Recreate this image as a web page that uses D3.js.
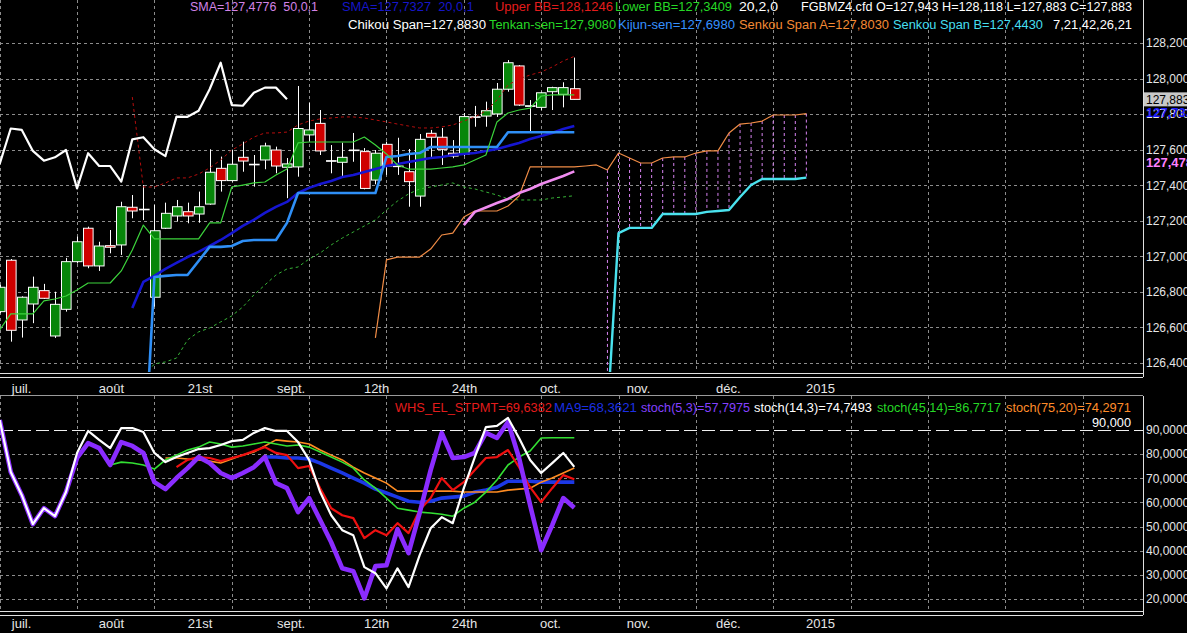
<!DOCTYPE html>
<html>
<head>
<meta charset="utf-8">
<script src="https://cdn.jsdelivr.net/npm/d3@7"></script>
<style>
  body { margin: 0; background: #000; }
  svg { display: block; }
</style>
</head>
<body>
<div id="chart-area"></div>
<script>
// daily candles, index 0 = first bar on screen
const opens = [126.689, 126.978, 126.642, 126.732, 126.807, 126.552, 126.702, 126.970, 127.158, 126.946,
  127.060, 127.064, 127.276, 127.265, 126.770, 127.158, 127.227, 127.251, 127.238, 127.294,
  127.495, 127.426, 127.557, 127.518, 127.542, 127.598, 127.501, 127.503, 127.683, 127.748,
  127.538, 127.529, 127.598, 127.589, 127.429, 127.630, 127.508, 127.476, 127.339, 127.692,
  127.670, 127.580, 127.574, 127.785, 127.789, 127.801, 127.940, 128.071, 127.847, 127.838,
  127.926, 127.911, 127.943];
const highs = [126.840, 126.985, 126.775, 126.886, 126.845, 126.801, 126.991, 127.111, 127.167, 127.082,
  127.148, 127.307, 127.345, 127.401, 127.289, 127.302, 127.317, 127.302, 127.364, 127.602,
  127.561, 127.600, 127.645, 127.570, 127.639, 127.617, 127.553, 127.958, 127.863, 127.823,
  127.626, 127.639, 127.694, 127.609, 127.598, 127.645, 127.667, 127.604, 127.688, 127.711,
  127.722, 127.654, 127.806, 127.846, 127.870, 127.975, 128.104, 128.076, 127.879, 127.926,
  127.954, 127.979, 128.118];
const lows = [126.680, 126.520, 126.543, 126.624, 126.760, 126.541, 126.689, 126.960, 126.933, 126.918,
  127.017, 127.008, 127.214, 127.204, 126.717, 127.154, 127.195, 127.186, 127.189, 127.290,
  127.364, 127.420, 127.476, 127.392, 127.490, 127.467, 127.327, 127.448, 127.645, 127.570,
  127.467, 127.448, 127.532, 127.377, 127.405, 127.458, 127.458, 127.279, 127.279, 127.559,
  127.514, 127.552, 127.564, 127.729, 127.729, 127.784, 127.926, 127.846, 127.696, 127.823,
  127.823, 127.838, 127.883];
const closes = [126.826, 126.584, 126.770, 126.826, 126.764, 126.730, 126.970, 127.082, 126.946, 127.058,
  127.051, 127.279, 127.255, 127.265, 127.144, 127.242, 127.279, 127.227, 127.279, 127.473,
  127.426, 127.518, 127.536, 127.518, 127.621, 127.508, 127.520, 127.719, 127.711, 127.593,
  127.538, 127.557, 127.598, 127.382, 127.580, 127.508, 127.508, 127.420, 127.658, 127.670,
  127.602, 127.564, 127.786, 127.785, 127.819, 127.940, 128.089, 127.851, 127.847, 127.920,
  127.949, 127.949, 127.883];

// ichimoku (7,21,42,26,21)
const tenkanStart = 0;
const tenkan = [126.586, 126.676, 126.676, 126.676, 126.749, 126.760, 126.777, 126.811, 126.850, 126.850,
  126.850, 126.918, 127.036, 127.176, 127.098, 127.098, 127.098, 127.098, 127.098, 127.188,
  127.188, 127.390, 127.401, 127.413, 127.418, 127.458, 127.491, 127.638, 127.643, 127.643,
  127.643, 127.643, 127.643, 127.671, 127.626, 127.576, 127.514, 127.491, 127.491, 127.491,
  127.497, 127.503, 127.514, 127.542, 127.570, 127.756, 127.806, 127.823, 127.834, 127.902,
  127.908, 127.908, 127.908];
const kijunStart = 13;
const kijun = [125.740, 126.884, 126.890, 126.895, 126.895, 126.974, 127.053, 127.053, 127.058, 127.086,
  127.092, 127.092, 127.092, 127.188, 127.356, 127.356, 127.356, 127.356, 127.356, 127.356,
  127.356, 127.356, 127.559, 127.564, 127.576, 127.581, 127.615, 127.615, 127.615, 127.615,
  127.615, 127.615, 127.615, 127.698, 127.698, 127.698, 127.698, 127.698, 127.698, 127.698];
const senkouAStart = 34;
const senkouA = [126.541, 126.980, 126.996, 126.996, 126.996, 127.041, 127.120, 127.131, 127.221, 127.255,
  127.255, 127.255, 127.283, 127.339, 127.503, 127.503, 127.503, 127.503, 127.503, 127.508,
  127.514, 127.486, 127.581, 127.553, 127.525, 127.525, 127.553, 127.559, 127.559, 127.581,
  127.593, 127.593, 127.694, 127.744, 127.750, 127.761, 127.795, 127.795, 127.795, 127.803];
const senkouBStart = 55;
const senkouB = [126.110, 127.131, 127.160, 127.160, 127.160, 127.238, 127.238, 127.238, 127.238, 127.250,
  127.255, 127.261, 127.334, 127.401, 127.435, 127.435, 127.435, 127.435, 127.443];
const chikouShift = 26;

// moving averages and bollinger (20,2)
const sma20Start = 12;
const sma20 = [126.710, 126.856, 126.890, 126.929, 126.963, 126.996, 127.025, 127.058, 127.092, 127.131,
  127.171, 127.205, 127.244, 127.278, 127.306, 127.356, 127.385, 127.407, 127.424, 127.446,
  127.458, 127.474, 127.491, 127.508, 127.519, 127.531, 127.542, 127.553, 127.559, 127.570,
  127.576, 127.581, 127.593, 127.604, 127.621, 127.638, 127.660, 127.677, 127.694, 127.716,
  127.733];
const sma50Start = 42;
const sma50 = [127.176, 127.250, 127.275, 127.300, 127.323, 127.356, 127.379, 127.407, 127.429, 127.452, 127.478];
const bbStart = 12;
const upperBB = [127.896, 127.390, 127.390, 127.413, 127.441, 127.441, 127.463, 127.497, 127.542, 127.598,
  127.632, 127.671, 127.694, 127.694, 127.699, 127.739, 127.761, 127.773, 127.778, 127.784,
  127.784, 127.778, 127.767, 127.756, 127.744, 127.733, 127.722, 127.722, 127.728, 127.739,
  127.761, 127.784, 127.818, 127.879, 127.964, 127.998, 128.020, 128.037, 128.065, 128.099,
  128.125];
const lowerBB = [125.523, 126.322, 126.395, 126.406, 126.428, 126.530, 126.575, 126.597, 126.631, 126.665,
  126.715, 126.783, 126.839, 126.895, 126.929, 126.940, 126.985, 127.019, 127.064, 127.103,
  127.137, 127.171, 127.205, 127.261, 127.311, 127.351, 127.379, 127.390, 127.401, 127.413,
  127.390, 127.379, 127.362, 127.345, 127.323, 127.317, 127.317, 127.317, 127.328, 127.334,
  127.341];

// oscillator panel
const stoch53Start = 0;
const stoch53 = [94.1, 72.6, 63.0, 51.0, 57.6, 54.3, 64.3, 78.4, 84.6, 82.5,
  75.5, 85.0, 83.4, 80.5, 68.4, 65.5, 70.1, 74.2, 78.8, 76.3,
  72.2, 70.1, 72.2, 74.6, 78.8, 68.0, 65.9, 56.0, 61.8, 52.7,
  43.5, 32.7, 31.5, 20.3, 33.6, 34.0, 48.9, 39.0, 55.6, 73.4,
  88.8, 78.4, 78.8, 80.5, 88.8, 86.7, 93.3, 78.4, 58.9, 40.2,
  50.6, 61.8, 57.8];
const stoch143Start = 0;
const stoch143 = [94.1, 72.6, 63.0, 51.0, 57.6, 54.3, 64.3, 80.5, 89.6, 85.9,
  82.5, 90.8, 90.8, 89.2, 80.5, 76.7, 78.8, 80.5, 82.1, 82.5,
  83.8, 85.4, 85.9, 88.8, 90.8, 89.6, 89.6, 85.0, 77.6, 64.3,
  54.7, 48.5, 46.4, 33.2, 30.7, 24.4, 32.7, 24.9, 38.1, 49.3,
  53.9, 51.4, 65.9, 78.8, 91.2, 91.7, 95.0, 86.7, 77.6, 72.2,
  76.3, 80.5, 74.7];
const stoch4514Start = 10;
const stoch4514 = [75.5, 76.7, 76.3, 75.5, 73.8, 77.6, 79.6, 81.7, 82.9, 85.0,
  84.2, 82.9, 83.4, 84.2, 85.0, 84.2, 83.4, 83.8, 82.9, 80.9,
  78.8, 76.7, 74.2, 69.3, 65.9, 61.8, 57.6, 56.8, 56.0, 55.6,
  55.1, 54.3, 57.6, 60.1, 64.3, 69.3, 75.5, 78.8, 81.3, 86.7,
  86.8, 86.8, 86.8];
const stoch7520Start = 15;
const stoch7520 = [78.4, 78.4, 78.0, 77.6, 77.1, 76.3, 78.0, 79.6, 80.9, 83.4,
  85.9, 85.4, 85.0, 84.2, 81.7, 79.6, 77.6, 74.6, 72.2, 70.1,
  68.0, 64.7, 64.7, 64.7, 64.7, 64.7, 64.7, 64.3, 64.3, 64.3,
  64.3, 65.1, 65.5, 65.9, 68.4, 70.1, 72.2, 74.3];
const whsStart = 16;
const whs = [74.6, 77.6, 78.8, 78.4, 77.1, 78.4, 79.6, 81.3, 82.9, 80.5,
  79.6, 74.2, 75.1, 65.9, 57.6, 54.7, 53.5, 45.2, 48.5, 46.4,
  51.4, 47.3, 56.8, 61.8, 70.1, 65.1, 68.4, 73.4, 78.4, 78.8,
  81.7, 74.6, 66.3, 60.1, 65.9, 71.3, 69.6];
const ma9Start = 24;
const ma9 = [78.8, 78.8, 78.4, 78.4, 78.0, 76.3, 74.2, 72.2, 70.1, 68.0,
  65.5, 63.9, 62.2, 60.5, 60.1, 60.5, 61.8, 62.2, 62.6, 64.3,
  65.1, 66.3, 68.8, 68.8, 68.8, 68.4, 68.4, 68.4, 68.4];
const oscLevel = 90;

// axes
const priceTicks = [126.4, 126.6, 126.8, 127.0, 127.2, 127.4, 127.6, 127.8, 128.0, 128.2];
const oscTicks = [20, 30, 40, 50, 60, 70, 80];
const timeLabels = ["juil.", "août", "21st", "sept.", "12th", "24th", "oct.", "nov.", "déc.", "2015"];
const timeLabelPos = [1.93, 10.07, 18.08, 26.32, 34.06, 42.02, 49.8, 57.76, 65.9, 74.23];
const gridEvery = 7;

// legend strings
const legendTop1 = ["SMA=127,4776  50,0,1", "SMA=127,7327  20,0,1", "Upper BB=128,1246", "Lower BB=127,3409",
  "20,2,0", "FGBMZ4.cfd O=127,943 H=128,118 L=127,883 C=127,883"];
const legendTop2 = ["Chikou Span=127,8830", "Tenkan-sen=127,9080", "Kijun-sen=127,6980",
  "Senkou Span A=127,8030", "Senkou Span B=127,4430", "7,21,42,26,21"];
const legendBottom = ["WHS_EL_STPMT=69,6382", "MA9=68,3621", "stoch(5,3)=57,7975", "stoch(14,3)=74,7493",
  "stoch(45,14)=86,7717", "stoch(75,20)=74,2971"];
const levelLabel = "90,000";

const canvas_dims = { width: 1187, height: 633 };
const plot_right = 1143;
const price_panel = { top: 0, bottom: 372 };
const osc_panel = { top: 396, bottom: 610 };
const FONT = "'Liberation Sans', Arial, sans-serif";

const svg = d3
  .select("#chart-area")
  .append("svg")
  .attr("width", canvas_dims.width)
  .attr("height", canvas_dims.height)
  .style("background", "#000")
  .attr("font-family", FONT);

const scales = {
  x: d3.scaleLinear().domain([0, 100]).range([-0.3, 1104.7]),
  price: d3.scaleLinear().domain([126.4, 128.2]).range([363, 43]),
  osc: d3.scaleLinear().domain([20, 90]).range([599, 430])
};

const frNum = digits => v => d3.format(`.${digits}f`)(v).replace(".", ",");
const seq = (values, start) => values.map((v, k) => ({ i: start + k, v }));

const defs = svg.append("defs");
defs.append("clipPath").attr("id", "clip-price").append("rect")
  .attr("x", 0).attr("y", price_panel.top).attr("width", plot_right).attr("height", price_panel.bottom - price_panel.top);
defs.append("clipPath").attr("id", "clip-osc").append("rect")
  .attr("x", 0).attr("y", osc_panel.top).attr("width", plot_right).attr("height", osc_panel.bottom - osc_panel.top);

// grid
const gridIdx = d3.range(0, 100, gridEvery);
const grid = svg.append("g").attr("stroke", "#8c8c8c").attr("stroke-dasharray", "3,3").attr("shape-rendering", "crispEdges");
[price_panel, osc_panel].forEach(p => {
  grid.append("g").selectAll("line").data(gridIdx).join("line")
    .attr("x1", d => Math.round(scales.x(d)) + 0.5).attr("x2", d => Math.round(scales.x(d)) + 0.5)
    .attr("y1", p.top).attr("y2", p.bottom);
});
grid.append("g").selectAll("line").data(priceTicks).join("line")
  .attr("x1", 0).attr("x2", plot_right)
  .attr("y1", d => Math.round(scales.price(d)) + 0.5).attr("y2", d => Math.round(scales.price(d)) + 0.5);
grid.append("g").selectAll("line").data(oscTicks).join("line")
  .attr("x1", 0).attr("x2", plot_right)
  .attr("y1", d => Math.round(scales.osc(d)) + 0.5).attr("y2", d => Math.round(scales.osc(d)) + 0.5);

// frames
const frame = svg.append("g").attr("stroke", "#e0e0e0").attr("shape-rendering", "crispEdges");
frame.append("line").attr("x1", plot_right + 0.5).attr("x2", plot_right + 0.5).attr("y1", 0).attr("y2", 377);
frame.append("line").attr("x1", plot_right + 0.5).attr("x2", plot_right + 0.5).attr("y1", osc_panel.top).attr("y2", 615);
[373.5, 377.5, 611.5, 615.5].forEach(y =>
  frame.append("line").attr("x1", 0).attr("x2", plot_right).attr("y1", y).attr("y2", y).attr("stroke-width", 1.5));
frame.append("line").attr("x1", 0).attr("x2", plot_right).attr("y1", 395.5).attr("y2", 395.5).attr("stroke", "#9a9a9a");

const line = y => d3.line().x(d => scales.x(d.i)).y(d => y(d.v));
const drawSeries = (g, pts, y, color, width, dash) =>
  g.append("path")
    .datum(pts)
    .attr("fill", "none")
    .attr("stroke", color)
    .attr("stroke-width", width)
    .attr("stroke-dasharray", dash || null)
    .attr("stroke-linejoin", "round")
    .attr("d", line(y));

// ---------- price panel ----------
const priceG = svg.append("g").attr("clip-path", "url(#clip-price)");

// cloud hatching between span A and span B
const cloud = senkouB.map((b, k) => {
  const i = senkouBStart + k;
  return { i, a: senkouA[i - senkouAStart], b };
});
priceG.append("g").selectAll("line").data(cloud).join("line")
  .attr("x1", d => scales.x(d.i)).attr("x2", d => scales.x(d.i))
  .attr("y1", d => scales.price(d.a)).attr("y2", d => scales.price(d.b))
  .attr("stroke", "#d883f2").attr("stroke-dasharray", "3,3");

// candles
const candles = opens.map((o, i) => ({ i, o, h: highs[i], l: lows[i], c: closes[i] }));
const bodyW = 9.6;
const cg = priceG.append("g");
cg.selectAll("line").data(candles).join("line")
  .attr("x1", d => Math.round(scales.x(d.i)) + 0.5).attr("x2", d => Math.round(scales.x(d.i)) + 0.5)
  .attr("y1", d => scales.price(d.h)).attr("y2", d => scales.price(d.l))
  .attr("stroke", "#fff").attr("stroke-width", 1);
cg.selectAll("rect").data(candles).join("rect")
  .attr("x", d => Math.round(scales.x(d.i) - bodyW / 2) + 0.5)
  .attr("y", d => scales.price(Math.max(d.o, d.c)))
  .attr("width", bodyW)
  .attr("height", d => Math.max(0.6, Math.abs(scales.price(d.o) - scales.price(d.c))))
  .attr("fill", d => (d.c > d.o ? "#07860a" : d.c < d.o ? "#cf0000" : "#fff"))
  .attr("stroke", "#fff").attr("stroke-width", 1);

// indicators
drawSeries(priceG, seq(upperBB, bbStart), scales.price, "#b40d0d", 1, "3,3");
drawSeries(priceG, seq(lowerBB, bbStart), scales.price, "#37b437", 1, "3,3");
drawSeries(priceG, seq(senkouA, senkouAStart), scales.price, "#f08c46", 1.2);
drawSeries(priceG, seq(senkouB, senkouBStart), scales.price, "#4ae2ee", 2.4);
drawSeries(priceG, seq(sma50, sma50Start), scales.price, "#f08cf0", 2.6);
drawSeries(priceG, seq(sma20, sma20Start), scales.price, "#1616d2", 2.6);
drawSeries(priceG, seq(kijun, kijunStart), scales.price, "#2f8ff6", 2.6);
drawSeries(priceG, seq(tenkan, tenkanStart), scales.price, "#3cd43c", 1.2);
drawSeries(priceG, closes.map((c, k) => ({ i: k - chikouShift, v: c })).filter(d => d.i >= 0),
  scales.price, "#ffffff", 2.2);

// ---------- oscillator panel ----------
const oscG = svg.append("g").attr("clip-path", "url(#clip-osc)");
oscG.append("line")
  .attr("x1", 0).attr("x2", plot_right)
  .attr("y1", Math.round(scales.osc(oscLevel)) + 0.5).attr("y2", Math.round(scales.osc(oscLevel)) + 0.5)
  .attr("stroke", "#f0f0f0").attr("stroke-dasharray", "13,5");
drawSeries(oscG, seq(ma9, ma9Start), scales.osc, "#1c38e6", 3.6);
drawSeries(oscG, seq(stoch7520, stoch7520Start), scales.osc, "#ff8c22", 1.6);
drawSeries(oscG, seq(stoch4514, stoch4514Start), scales.osc, "#33e033", 1.6);
drawSeries(oscG, seq(whs, whsStart), scales.osc, "#ee1010", 2.2);
drawSeries(oscG, seq(stoch53, stoch53Start), scales.osc, "#8a2cff", 4.6);
drawSeries(oscG, seq(stoch143, stoch143Start), scales.osc, "#ffffff", 2.2);

// ---------- axes ----------
const styleAxis = (g, size) => {
  g.select(".domain").remove();
  g.attr("font-family", FONT).attr("font-size", size);
  g.selectAll("text").attr("fill", "#e6e6e6");
};

svg.append("g")
  .attr("transform", `translate(${plot_right},0)`)
  .call(d3.axisRight(scales.price).tickValues(priceTicks).tickFormat(frNum(3)).tickSize(0).tickPadding(3))
  .call(g => styleAxis(g, 12));

svg.append("g")
  .attr("transform", `translate(${plot_right},0)`)
  .call(d3.axisRight(scales.osc).tickValues(oscTicks.concat([oscLevel])).tickFormat(frNum(4)).tickSize(0).tickPadding(3))
  .call(g => styleAxis(g, 12));

[378, 613].forEach(y =>
  svg.append("g")
    .attr("transform", `translate(0,${y})`)
    .call(d3.axisBottom(scales.x).tickValues(timeLabelPos).tickFormat((d, i) => timeLabels[i]).tickSize(0).tickPadding(6))
    .call(g => styleAxis(g, 13)));

// last-value markers on the price scale
const lastClose = closes[closes.length - 1];
const markers = svg.append("g").attr("font-size", 12);
markers.append("rect")
  .attr("x", plot_right + 1).attr("y", scales.price(lastClose) - 7)
  .attr("width", 44).attr("height", 14).attr("fill", "#c8c8c8");
markers.append("text")
  .attr("x", plot_right + 3).attr("y", scales.price(lastClose)).attr("dy", "0.35em")
  .attr("fill", "#000").text(frNum(3)(lastClose));
markers.append("text")
  .attr("x", plot_right + 3).attr("y", scales.price(sma20[sma20.length - 1]) - 14).attr("dy", "0.35em")
  .attr("fill", "#1a1aff").attr("font-weight", "bold").attr("font-size", 13)
  .text(frNum(3)(sma20[sma20.length - 1]));
markers.append("text")
  .attr("x", plot_right + 3).attr("y", scales.price(sma50[sma50.length - 1]) - 9).attr("dy", "0.35em")
  .attr("fill", "#ff80ff").attr("font-weight", "bold").attr("font-size", 13)
  .text(frNum(3)(sma50[sma50.length - 1]));

// ---------- legends ----------
const legend_layout = [
  { texts: legendTop1, y: 11, x: [190, 342, 495, 615, 739, 801], w: [128, 132, 118, 117, 39, 331],
    colors: ["#d283e6", "#1616c8", "#e41c1c", "#26d826", "#fff", "#fff"] },
  { texts: legendTop2, y: 29, x: [348, 489, 618, 739, 893, 1053], w: [138, 127, 117, 150, 150, 79],
    colors: ["#fff", "#26d826", "#3590ff", "#f58a34", "#46dff0", "#fff"] },
  { texts: legendBottom, y: 412, x: [395, 554, 641, 754, 877, 1006], w: [157, 83, 109, 118, 124, 125],
    colors: ["#e41c1c", "#1c30e4", "#8440ff", "#fff", "#26d826", "#ff8c2a"] },
  { texts: [levelLabel], y: 427, x: [1092], w: [39], colors: ["#fff"] }
];

legend_layout.forEach(row => {
  svg.append("g")
    .selectAll("text")
    .data(row.texts)
    .join("text")
    .attr("x", (d, i) => row.x[i])
    .attr("y", row.y)
    .attr("font-size", 12.5)
    .attr("fill", (d, i) => row.colors[i])
    .attr("textLength", (d, i) => row.w[i])
    .attr("lengthAdjust", "spacingAndGlyphs")
    .style("white-space", "pre")
    .text(d => d);
});
</script>
</body>
</html>
